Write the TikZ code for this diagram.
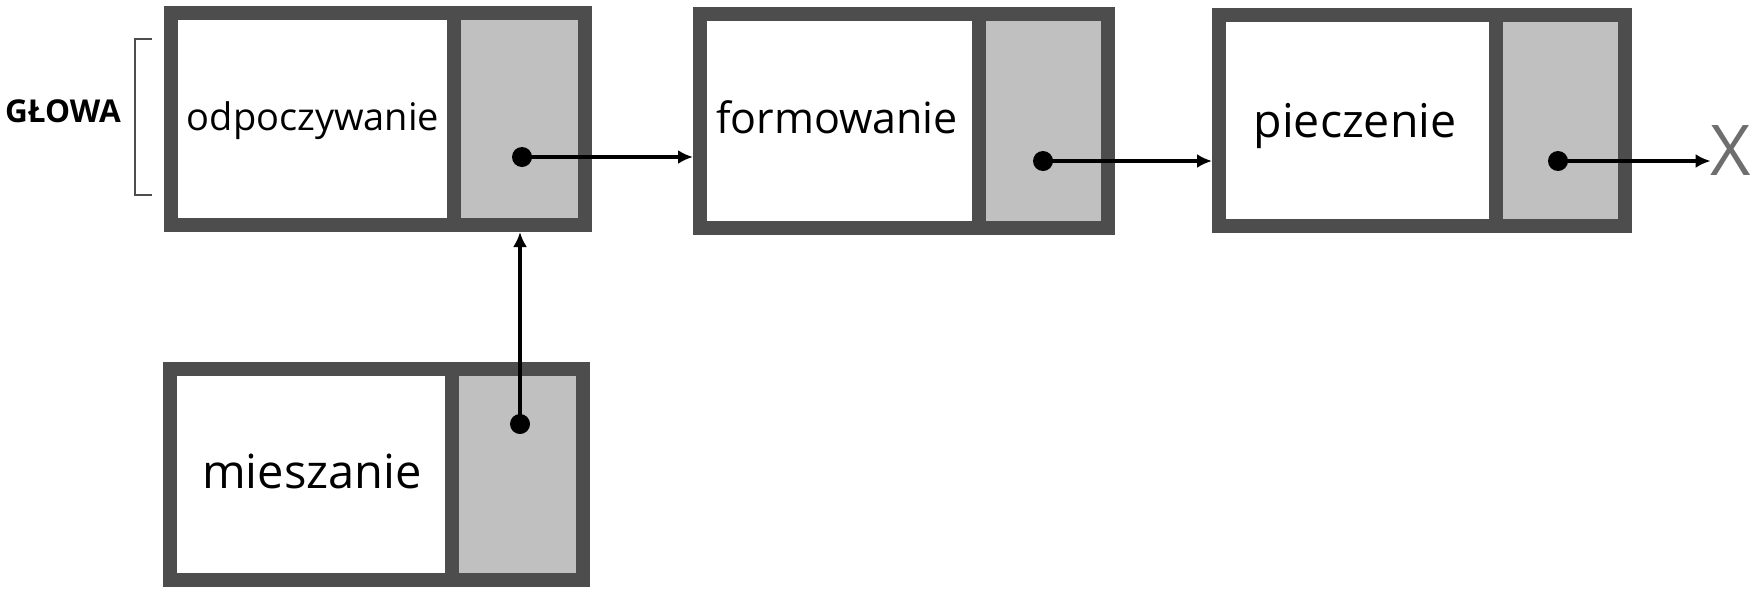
\documentclass[tikz,border=0pt]{standalone}
\usepackage{fontspec}
\setmainfont{Open Sans}
\usetikzlibrary{arrows.meta}
\definecolor{frame}{RGB}{77,77,77}
\definecolor{ptrfill}{RGB}{192,192,192}
\definecolor{xgray}{RGB}{110,110,110}
\tikzset{
  cell/.style={draw=frame, line width=14pt, rectangle, inner sep=0pt},
  datacell/.style={cell, fill=white},
  ptrcell/.style={cell, fill=ptrfill},
  dot/.style={circle, fill=black, minimum size=20pt, inner sep=0pt},
  arr/.style={line width=4pt, -{Latex[length=15pt,width=14pt]}},
  lbl/.style={inner sep=0pt, anchor=base, text=black},
}
\begin{document}
\begin{tikzpicture}[x=1pt,y=-1pt]
\useasboundingbox (0,0) rectangle (1752,592);
\fill[white] (0,0) rectangle (1752,592);
% box 1
\node[datacell, minimum width=283pt, minimum height=212pt] (b1) at (312.5,119) {};
\node[ptrcell, minimum width=131pt, minimum height=212pt] (p1) at (519.5,119) {};
% box 2
\node[datacell, minimum width=278.5pt, minimum height=214pt] (b2) at (839.25,121) {};
\node[ptrcell, minimum width=129.5pt, minimum height=214pt] (p2) at (1043.25,121) {};
% box 3
\node[datacell, minimum width=276.5pt, minimum height=211pt] (b3) at (1357.25,120.5) {};
\node[ptrcell, minimum width=129.5pt, minimum height=211pt] (p3) at (1560.25,120.5) {};
% box 4
\node[datacell, minimum width=281.5pt, minimum height=211pt] (b4) at (310.75,474.5) {};
\node[ptrcell, minimum width=131.5pt, minimum height=211pt] (p4) at (517.25,474.5) {};
% labels
\node[lbl, font=\fontsize{38}{40}\selectfont] (t1) at (313,130) {odpoczywanie};
\node[lbl, font=\fontsize{43}{45}\selectfont] (t2) at (837,133) {formowanie};
\node[lbl, font=\fontsize{46.5}{48}\selectfont] (t3) at (1355,137) {pieczenie};
\node[lbl, font=\fontsize{47}{49}\selectfont] (t4) at (312,488) {mieszanie};
\node[lbl, font=\bfseries\fontsize{31.5}{33}\selectfont] (head) at (63,122) {GŁOWA};
\node[inner sep=0pt, text=xgray, font=\fontsize{70}{72}\selectfont] (nil) at (1731,151) {X};
% bracket
\coordinate (bt) at (152,39);
\coordinate (bb) at (152,195);
\draw[frame, line width=2pt] (bt) -- ++(-17,0) |- (bb);
% dots
\node[dot] (q1) at (522,157) {};
\node[dot] (q2) at (1043,161) {};
\node[dot] (q3) at (1558,161) {};
\node[dot] (q4) at (520,424) {};
% arrows
\draw[arr] (q1.center) -- (q1 -| b2.west);
\draw[arr] (q2.center) -- (q2 -| b3.west);
\draw[arr] (q3.center) -- (q3 -| nil.west);
\draw[arr] (q4.center) -- (q4 |- p1.south);
\end{tikzpicture}
\end{document}
